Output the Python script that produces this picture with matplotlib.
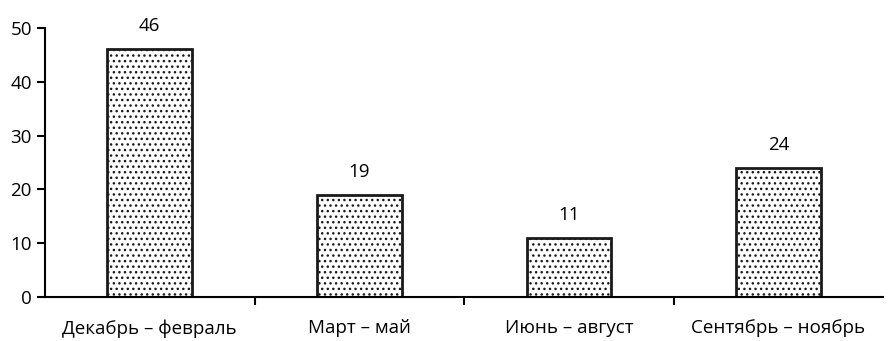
import numpy as np
import matplotlib.pyplot as plt

plt.rcParams['font.family'] = ['Open Sans', 'DejaVu Sans']
plt.rcParams['hatch.linewidth'] = 1.0
plt.rcParams['hatch.color'] = '#333333'

# Data
seasons = ['Декабрь – февраль', 'Март – май', 'Июнь – август', 'Сентябрь – ноябрь']
values = [46, 19, 11, 24]

fig = plt.figure(figsize=(8.88, 3.41), dpi=100)
ax = fig.add_axes([0.0507, 0.129, 0.944, 0.789])

x = np.arange(len(seasons))
bars = ax.bar(x, values, width=0.405, color='white', edgecolor='#1a1a1a',
              linewidth=2, hatch='...')

# Value labels above bars
for xi, v in zip(x, values):
    ax.text(xi, v + 2.6, str(v), ha='center', va='bottom', fontsize=13.5)

ax.set_xlim(-0.5, len(seasons) - 0.5)
ax.set_ylim(0, 50)
ax.set_yticks(np.arange(0, 51, 10))
ax.set_xticks(x)
ax.set_xticklabels(seasons, fontsize=13.5)
ax.tick_params(axis='x', which='major', length=0, pad=16)
ax.set_xticks(np.arange(0.5, len(seasons) - 1, 1), minor=True)
ax.tick_params(axis='x', which='minor', length=6, width=1.5, direction='out')
ax.tick_params(axis='y', labelsize=13.5, length=6, width=1.5, direction='out')

ax.spines['top'].set_visible(False)
ax.spines['right'].set_visible(False)
ax.spines['left'].set_linewidth(1.5)
ax.spines['bottom'].set_linewidth(1.5)

fig.savefig('out.png', dpi=100)
